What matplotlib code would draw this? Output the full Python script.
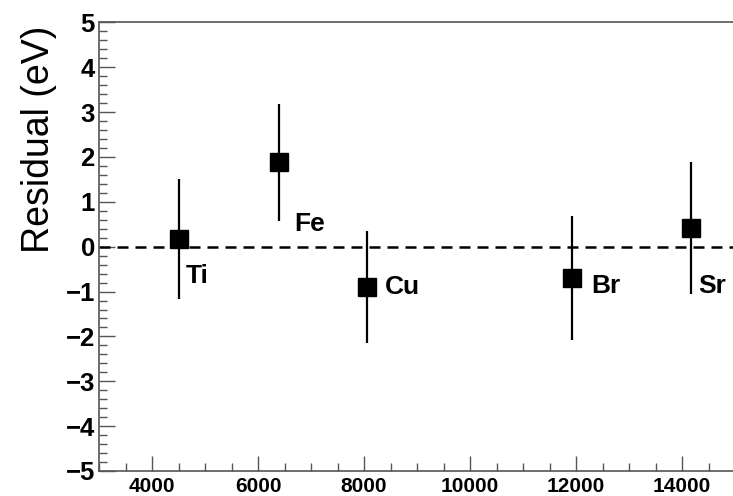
import matplotlib
matplotlib.use("Agg")
import matplotlib.pyplot as plt
from matplotlib.ticker import MultipleLocator

# Data
elements = ["Ti", "Fe", "Cu", "Br", "Sr"]
energy_eV = [4510, 6404, 8048, 11924, 14165]
residual_eV = [0.17, 1.88, -0.89, -0.69, 0.41]
error_eV = [1.33, 1.31, 1.25, 1.38, 1.47]

# label offsets from each point, in pixels (right, down)
label_dx_px = [7, 15, 18, 19, 7]
label_dy_px = [37, 62, 0, 8, 58]

W, H = 733, 496
fig = plt.figure(figsize=(W / 100, H / 100), dpi=100)
ax = fig.add_axes([99 / W, 25 / H, 636 / W, 448.6 / H])

plt.rcParams['font.family'] = ['Liberation Sans', 'DejaVu Sans']
FAM = ['Liberation Sans', 'DejaVu Sans']

ax.errorbar(energy_eV, residual_eV, yerr=error_eV, fmt='s', color='black',
            markersize=13.4, elinewidth=1.6, capsize=0, zorder=3)
ax.axhline(0, color='black', lw=1.8, linestyle=(0, (4.4, 2.8)), zorder=2)

px2pt = 0.72
for name, x, y, dx, dy in zip(elements, energy_eV, residual_eV, label_dx_px, label_dy_px):
    ax.annotate(name, (x, y), xytext=(dx * px2pt, -dy * px2pt), textcoords='offset points',
                ha='left', va='center', fontsize=19, fontweight='bold', family=FAM)

ax.set_xlim(3000, 15000)
ax.set_ylim(-5, 5)
ax.xaxis.set_major_locator(MultipleLocator(2000))
ax.xaxis.set_minor_locator(MultipleLocator(500))
ax.yaxis.set_major_locator(MultipleLocator(1))
ax.yaxis.set_minor_locator(MultipleLocator(0.2))

axis_color = '#555555'
for s in ax.spines.values():
    s.set_color(axis_color)
    s.set_linewidth(1.2)

ax.tick_params(axis='both', which='both', direction='in', color=axis_color, width=1.0)
ax.tick_params(axis='y', which='major', length=11.5, pad=3, labelsize=18.5)
ax.tick_params(axis='y', which='minor', length=5.5)
ax.tick_params(axis='x', which='major', length=11, pad=4, labelsize=15)
ax.tick_params(axis='x', which='minor', length=5.5)
for lab in ax.get_xticklabels() + ax.get_yticklabels():
    lab.set_fontweight('bold')
    lab.set_family(FAM)

ax.set_ylabel("Residual (eV)", fontsize=27, family=FAM)
ax.yaxis.set_label_coords((57 - 99) / 636, (471 - 139) / 448.6)

fig.savefig("out.png", dpi=100)
